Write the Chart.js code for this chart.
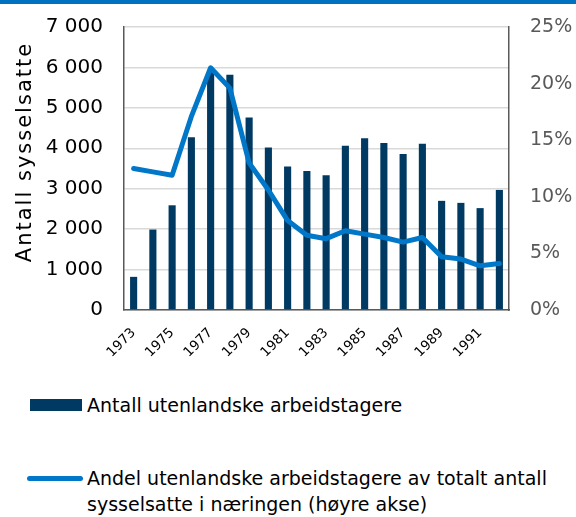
<!DOCTYPE html>
<html>
<head>
<meta charset="utf-8">
<script src="https://cdn.jsdelivr.net/npm/chart.js@4.4.1/dist/chart.umd.min.js"></script>
<style>
  body { margin: 0; background: #ffffff; font-family: "DejaVu Sans", sans-serif; }
  #page { position: relative; width: 576px; height: 517px; overflow: hidden; }
  #topBar { position: absolute; left: 0; top: 0; width: 576px; height: 4px; background: #0070C0; }
  #chartBox { position: absolute; left: 0; top: 0; width: 576px; height: 380px; }
  #yTitle {
    position: absolute; left: 24px; top: 152px; width: 260px; margin-left: -130px;
    text-align: center; font-size: 21px; line-height: 24px; margin-top: -12px;
    letter-spacing: 2px; color: #000; white-space: nowrap; transform: rotate(-90deg);
  }
  .legendItem { position: absolute; left: 0; font-size: 19px; color: #000; line-height: 26px; }
  .legendItem .txt { position: absolute; left: 87px; top: 0; width: 489px; white-space: nowrap; }
  .swatchBar { position: absolute; left: 30px; width: 52px; height: 12px; background: #003A63; }
  .swatchLine { position: absolute; left: 27px; width: 56px; height: 5px; border-radius: 3px; background: #0077C8; }
</style>
</head>
<body>
<div id="page">
  <div id="chartBox"><canvas id="comboChart"></canvas></div>
  <div id="topBar"></div>
  <div id="yTitle">Antall sysselsatte</div>

  <div class="legendItem" style="top:392px; height:26px;">
    <div class="swatchBar" style="top:7px;"></div>
    <div class="txt">Antall utenlandske arbeidstagere</div>
  </div>

  <div class="legendItem" style="top:465px; height:52px;">
    <div class="swatchLine" style="top:11px;"></div>
    <div class="txt">Andel utenlandske arbeidstagere av totalt antall<br>sysselsatte i næringen (høyre akse)</div>
  </div>
</div>

<script>
// ==========================
// DATA
// ==========================

const years = [
    "1973", "1974", "1975", "1976", "1977",
    "1978", "1979", "1980", "1981", "1982",
    "1983", "1984", "1985", "1986", "1987",
    "1988", "1989", "1990", "1991", "1992"
];

// antall utenlandske arbeidstagere (venstre akse)
const foreignWorkers = [
    820, 1990, 2590, 4270, 5900,
    5820, 4760, 4020, 3550, 3440,
    3330, 4060, 4250, 4130, 3860,
    4110, 2700, 2650, 2520, 2970
];

// andel av totalt antall sysselsatte, prosent (høyre akse)
const foreignShare = [
    12.5, 12.2, 11.9, 17.1, 21.4,
    19.6, 13.0, 10.6, 7.9, 6.6,
    6.3, 7.0, 6.7, 6.4, 6.0,
    6.4, 4.7, 4.5, 3.9, 4.1
];

const leftTicks = [0, 1000, 2000, 3000, 4000, 5000, 6000, 7000];
const rightTicks = [0, 5, 10, 15, 20, 25];

// ==========================
// CHART
// ==========================

Chart.defaults.font.family = "'DejaVu Sans', sans-serif";
Chart.defaults.animation = false;

function spaced(v) {
    return String(v).replace(/\B(?=(\d{3})+(?!\d))/g, " ");
}

// keep the plot box at 27..310 whatever the tick padding is
function fixVertical(scale, width) {
    scale.width = width;
    scale.paddingTop = 27;
    scale.paddingBottom = 0;
}

const ctx = document.getElementById("comboChart");

new Chart(ctx, {
    type: "bar",
    data: {
        labels: years,
        datasets: [
            {
                type: "line",
                label: "Andel utenlandske arbeidstagere av totalt antall sysselsatte i næringen (høyre akse)",
                data: foreignShare,
                yAxisID: "y1",
                borderColor: "#0077C8",
                backgroundColor: "#0077C8",
                borderWidth: 5,
                pointRadius: 0,
                tension: 0,
                borderJoinStyle: "round",
                borderCapStyle: "round",
                order: 1
            },
            {
                type: "bar",
                label: "Antall utenlandske arbeidstagere",
                data: foreignWorkers,
                yAxisID: "y",
                backgroundColor: "#003A63",
                barPercentage: 0.37,
                categoryPercentage: 1.0,
                order: 2
            }
        ]
    },
    options: {
        responsive: true,
        maintainAspectRatio: false,
        layout: {
            padding: 0
        },
        plugins: {
            legend: { display: false },
            tooltip: { enabled: false }
        },
        scales: {
            x: {
                grid: { display: false, drawTicks: false },
                border: { display: true, color: "#595959", width: 1.5 },
                ticks: {
                    color: "#000000",
                    font: { size: 13.5 },
                    autoSkip: false,
                    maxRotation: 45,
                    minRotation: 45,
                    padding: 15,
                    callback: function (value, index) {
                        return index % 2 === 0 ? years[index] : "";
                    }
                },
                afterFit: function (scale) {
                    scale.height = 70;
                    scale.paddingLeft = 0;
                    scale.paddingRight = 0;
                }
            },
            y: {
                position: "left",
                min: 0,
                max: 7000,
                afterBuildTicks: function (scale) {
                    scale.ticks = leftTicks.map(v => ({ value: v }));
                },
                grid: { color: "#D9D9D9", lineWidth: 1.5, drawTicks: false },
                border: { display: true, color: "#595959", width: 1.5 },
                ticks: {
                    color: "#000000",
                    font: { size: 20 },
                    padding: 21,
                    callback: v => spaced(v)
                },
                afterFit: function (scale) { fixVertical(scale, 124); }
            },
            y1: {
                position: "right",
                min: 0,
                max: 25,
                afterBuildTicks: function (scale) {
                    scale.ticks = rightTicks.map(v => ({ value: v }));
                },
                grid: { display: false, drawTicks: false },
                border: { display: true, color: "#595959", width: 1.5 },
                ticks: {
                    color: "#595959",
                    font: { size: 19 },
                    padding: 21,
                    callback: v => v + "%"
                },
                afterFit: function (scale) { fixVertical(scale, 67); }
            }
        }
    }
});
</script>
</body>
</html>
